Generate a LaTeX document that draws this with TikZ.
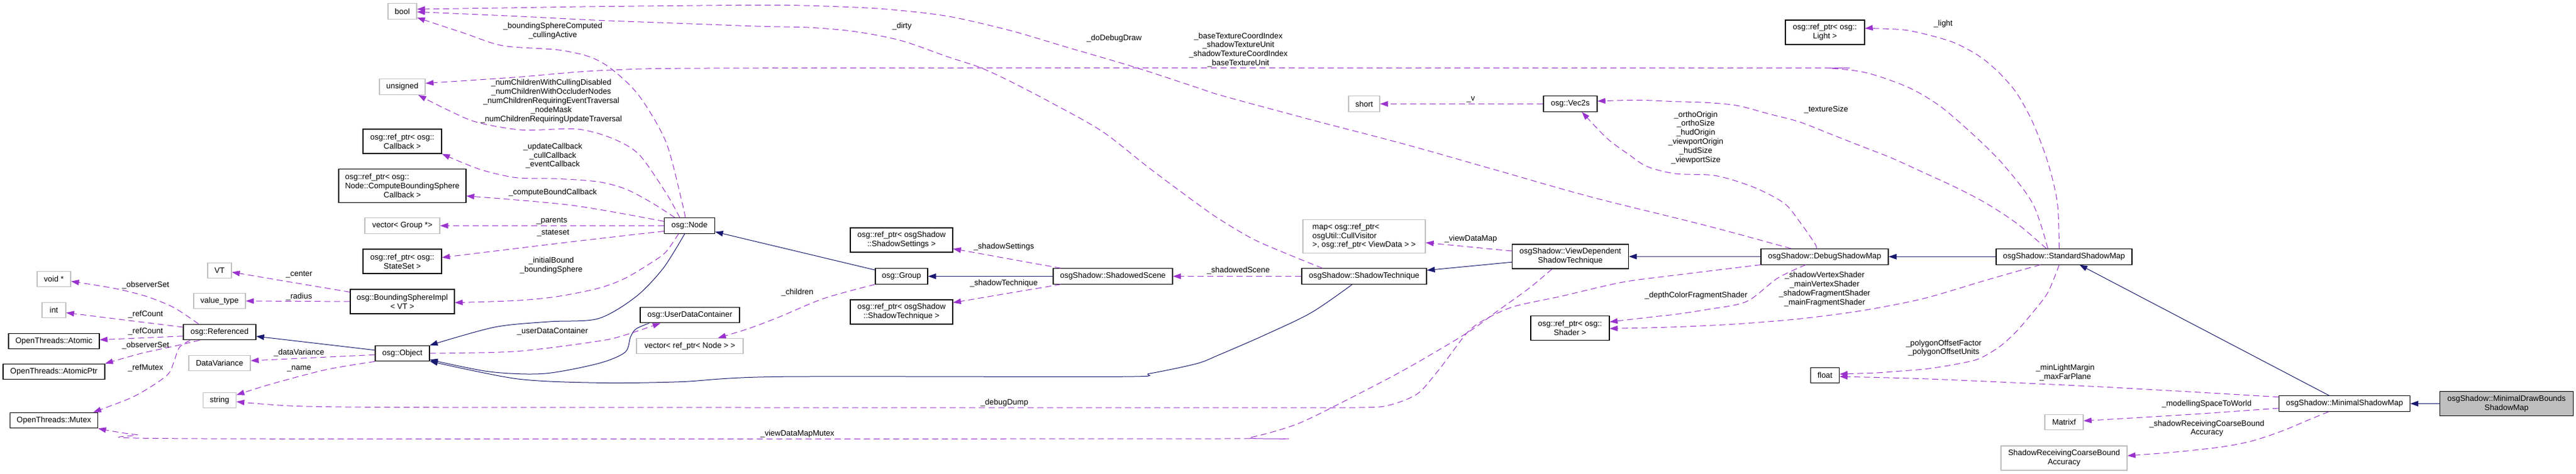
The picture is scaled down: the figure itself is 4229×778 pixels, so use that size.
\documentclass[tikz,border=0pt]{standalone}
\usepackage{fontspec}
\usepackage{calc}
\setmainfont{Liberation Sans}
\usetikzlibrary{arrows.meta}
\definecolor{inhblue}{HTML}{191970}
\definecolor{usepurple}{HTML}{9A32CD}
\definecolor{undocgray}{HTML}{BFBFBF}
\tikzset{
    cls/.style={draw=black, line width=1.1pt, fill=white, inner sep=0pt,
        minimum height=25.5pt, align=center},
    extcls/.style={cls, draw=undocgray, line width=1.3pt},
    inh/.style={draw=inhblue, line width=1pt, -{Triangle[length=13pt,width=9pt]}},
    uses/.style={draw=usepurple, line width=1pt, dash pattern=on 10pt off 6pt,
        -{Triangle[length=13pt,width=9pt]}},
    lbl/.style={inner sep=0pt, align=center},
}
\begin{document}
\begin{tikzpicture}[x=1pt, y=-1pt, font=\fontsize{13}{14.8}\selectfont]
    \useasboundingbox (0,0) rectangle (4229,778);
    \fill[white] (0,0) rectangle (4229,778);

    % Classes on the left
    \node[extcls, minimum width=55pt] (voidp) at (88.5,458) {void *};
    \node[extcls, minimum width=39pt] (int) at (88.5,509) {int};
    \node[cls, minimum width=149pt] (atomic) at (88.5,560) {OpenThreads::Atomic};
    \node[cls, minimum width=167pt] (atomicptr) at (88.5,610) {OpenThreads::AtomicPtr};
    \node[cls, minimum width=144pt] (mutex) at (88.5,690) {OpenThreads::Mutex};
    \node[cls, minimum width=119pt] (referenced) at (360.5,545) {osg::Referenced};
    \node[extcls, minimum width=39pt] (vt) at (360.5,444) {VT};
    \node[extcls, minimum width=85pt] (valuetype) at (360.5,494) {value\_type};
    \node[extcls, minimum width=101pt] (datavar) at (360.5,596) {DataVariance};
    \node[extcls, minimum width=54pt] (string) at (360.5,657) {string};

    % Column of osg::Object and osg::Node members
    \node[extcls, minimum width=47pt] (bool) at (660.5,18.5) {bool};
    \node[extcls, minimum width=75pt] (unsigned) at (660.5,142.5) {unsigned};
    \node[cls, minimum width=129pt, minimum height=40pt] (callback) at (660.5,232) {osg::ref\_ptr< osg::\\Callback >};
    \node[cls, minimum width=209pt, minimum height=55pt] (cbscb) at (660.5,305)
        {\makebox[\widthof{Node::ComputeBoundingSphere}][l]{osg::ref\_ptr< osg::}\\Node::ComputeBoundingSphere\\Callback >};
    \node[extcls, minimum width=123pt] (vecgroup) at (660.5,370.5) {vector< Group *>};
    \node[cls, minimum width=129pt, minimum height=40pt] (stateset) at (660.5,429) {osg::ref\_ptr< osg::\\StateSet >};
    \node[cls, minimum width=171pt, minimum height=40pt] (bsimpl) at (660.5,495) {osg::BoundingSphereImpl\\< VT >};
    \node[cls, minimum width=89pt] (object) at (660.5,580) {osg::Object};

    \node[cls, minimum width=83pt] (node) at (1132,370.5) {osg::Node};
    \node[cls, minimum width=163pt] (udc) at (1132.5,517) {osg::UserDataContainer};
    \node[extcls, minimum width=175pt] (vecnode) at (1132.5,568) {vector< ref\_ptr< Node > >};

    \node[cls, minimum width=168pt, minimum height=40pt] (settings) at (1480,394) {osg::ref\_ptr< osgShadow\\::ShadowSettings >};
    \node[cls, minimum width=86pt] (group) at (1480,453.5) {osg::Group};
    \node[cls, minimum width=168pt, minimum height=40pt] (techptr) at (1480,512) {osg::ref\_ptr< osgShadow\\::ShadowTechnique >};
    \node[cls, minimum width=196pt] (scene) at (1827,453.5) {osgShadow::ShadowedScene};

    % Shadow techniques
    \node[extcls, minimum width=201pt, minimum height=55pt, align=left] (map) at (2239.5,387.7)
        {map< osg::ref\_ptr<\\osgUtil::CullVisitor\\>, osg::ref\_ptr< ViewData > >};
    \node[cls, minimum width=205pt] (technique) at (2239.5,453.5) {osgShadow::ShadowTechnique};
    \node[extcls, minimum width=51pt] (short) at (2239.5,170.5) {short};
    \node[cls, minimum width=88pt] (vec2s) at (2578,170.5) {osg::Vec2s};
    \node[cls, minimum width=191pt, minimum height=40pt] (vdst) at (2578,421) {osgShadow::ViewDependent\\ShadowTechnique};
    \node[cls, minimum width=129pt, minimum height=40pt] (shader) at (2577.5,538.5) {osg::ref\_ptr< osg::\\Shader >};
    \node[cls, minimum width=130pt, minimum height=40pt] (light) at (2996,53) {osg::ref\_ptr< osg::\\Light >};
    \node[cls, minimum width=209pt] (debugmap) at (2995.5,421.3) {osgShadow::DebugShadowMap};
    \node[cls, minimum width=47pt] (float) at (2996,616) {float};
    \node[cls, minimum width=223pt] (stdmap) at (3388.5,421.3) {osgShadow::StandardShadowMap};
    \node[extcls, minimum width=63pt] (matrixf) at (3388.5,693) {Matrixf};
    \node[extcls, minimum width=207pt, minimum height=40pt] (coarse) at (3388.5,752) {ShadowReceivingCoarseBound\\Accuracy};
    \node[cls, minimum width=215pt] (minmap) at (3849,662.5) {osgShadow::MinimalShadowMap};
    \node[cls, fill=undocgray, minimum width=219pt, minimum height=40pt] (drawbounds) at (4115,662.5) {osgShadow::MinimalDrawBounds\\ShadowMap};

    % Inheritance
    \draw[inh] (object) -- (referenced);%
    \draw[inh] plot[smooth] coordinates {([xshift=-8pt]node.south) (1089,440) (1044,487) (982,523) (901,528) (812,537) (object.north east)};%
    \draw[inh] plot[smooth] coordinates {([xshift=15.5pt]udc.south west) (1044,540) (1035,553.3) (1026,578.3) (981.8,596.7) (892.5,613.3) (803,610) ([yshift=3pt]object.south east)};%
    \draw[inh] plot[smooth] coordinates {([xshift=-19.5pt]technique.south) (2153,513) (2076,550) (2000,583) (1964,597) (1888,613) (1837,618.3) (1280,618.3) (1116,626.7) (982,628.3) (848,621.7) ([yshift=0.5pt]object.south east)};%
    \draw[inh] (group) -- (node);%
    \draw[inh] (scene) -- (group);%
    \draw[inh] (vdst) -- (technique);%
    \draw[inh] (debugmap) -- (vdst);%
    \draw[inh] (stdmap) -- (debugmap);%
    \draw[inh] (minmap) -- (stdmap);%
    \draw[inh] (drawbounds) -- (minmap);%

    % Members of osg::Referenced
    \draw[uses] plot[smooth] coordinates {([xshift=-34.5pt]referenced.north) (285.7,505) (241,486.7) (187.5,473.3) ([yshift=-3.7pt]voidp.east)};%
    \node[lbl] (l-observer1) at (239,468) {\_observerSet};%
    \draw[uses] ([yshift=8pt]referenced.west) -- ([yshift=-4.3pt]int.east);%
    \node[lbl] (l-refcount1) at (239,515.7) {\_refCount};%
    \draw[uses] ([yshift=-6.7pt]referenced.west) -- ([yshift=2.3pt]atomic.east);%
    \node[lbl] (l-refcount2) at (239,544.3) {\_refCount};%
    \draw[uses] plot[smooth] coordinates {([xshift=-32.5pt]referenced.south) (285.7,568.3) (232,580) (atomicptr.north east)};%
    \node[lbl] (l-observer2) at (239,567.3) {\_observerSet};%
    \draw[uses] plot[smooth] coordinates {([xshift=-48pt]referenced.south) (294.6,570) (285.7,593.3) (276.8,613.3) (250,633.3) (214.3,653.3) ([xshift=-8pt]mutex.north east)};%
    \node[lbl] (l-refmutex) at (239,604.3) {\_refMutex};%

    % Members of osg::Object and osg::BoundingSphereImpl
    \draw[uses] ([yshift=-5pt]bsimpl.north west) -- ([yshift=-2.7pt]vt.east);%
    \node[lbl] (l-center) at (491,450.7) {\_center};%
    \draw[uses] (bsimpl.west) -- (valuetype.east);%
    \node[lbl] (l-radius) at (491,486.7) {\_radius};%
    \draw[uses] ([yshift=-2.3pt]object.west) -- ([yshift=4pt]datavar.east);%
    \node[lbl] (l-datavar) at (491,579) {\_dataVariance};%
    \draw[uses] plot[smooth] coordinates {(object.south west) (535.7,606.7) (446.4,630) ([yshift=8.7pt]string.east)};%
    \node[lbl] (l-name) at (491,605) {\_name};%
    \draw[uses] plot[smooth] coordinates {(object.east) (848,576.7) (981.8,560) (1026,550) ([xshift=-48pt]udc.south)};%
    \node[lbl] (l-udc) at (907,544.3) {\_userDataContainer};%

    % Members of osg::Node
    \draw[uses] plot[smooth] coordinates {([xshift=-7pt]node.north) (1120,333.3) (1093.4,233.3) (1048.8,156.7) (1004,113.3) (968,93.3) (914.8,81.7) (825.5,75) (758.6,53.3) ([yshift=3pt]bool.south east)};%
    \node[lbl] (l-bsc) at (907.5,50.8) {\_boundingSphereComputed\\\_cullingActive};%
    \draw[uses] plot[smooth] coordinates {([xshift=-16pt]node.north) (1093.4,316.7) (1048.8,253.3) (1004,226.7) (946,211.7) (856.8,213.3) (781,200) (727.3,176.7) ([xshift=-12pt]unsigned.south east)};%
    \node[lbl] (l-numchildren) at (905,166.2) {\_numChildrenWithCullingDisabled\\\_numChildrenWithOccluderNodes\\\_numChildrenRequiringEventTraversal\\\_nodeMask\\\_numChildrenRequiringUpdateTraversal};%
    \draw[uses] plot[smooth] coordinates {([xshift=-24pt]node.north) (1071,333.3) (1026.4,310) (981.8,298.3) (914.8,293.3) (848,291.7) (794.3,280) (758.6,266.7) (callback.south east)};%
    \node[lbl] (l-callbacks) at (907.5,255.7) {\_updateCallback\\\_cullCallback\\\_eventCallback};%
    \draw[uses] plot[smooth] coordinates {([yshift=7.2pt]node.west) (937,336.7) ([yshift=-16.7pt]cbscb.east)};%
    \node[lbl] (l-computebound) at (907.5,315.7) {\_computeBoundCallback};%
    \draw[uses] (node) -- (vecgroup);%
    \node[lbl] (l-parents) at (906,362.7) {\_parents};%
    \draw[uses] plot[smooth] coordinates {([yshift=-9pt]node.west) (937,397) ([yshift=6.3pt]stateset.east)};%
    \node[lbl] (l-stateset) at (908,382.7) {\_stateset};%
    \draw[uses] plot[smooth] coordinates {([xshift=-18pt]node.south) (1093.4,413.3) (1071,430) (1026.4,456.7) (981.8,473.3) (914.8,486.7) (847.9,493.3) ([yshift=-1.7pt]bsimpl.east)};%
    \node[lbl] (l-bound) at (905,435.8) {\_initialBound\\\_boundingSphere};%

    % Members of osg::Group and osgShadow::ShadowedScene
    \draw[uses] plot[smooth] coordinates {(group.south west) (1352,490) (1280,520) (1227,540) ([xshift=-42pt]vecnode.north east)};%
    \node[lbl] (l-children) at (1309,479.7) {\_children};%
    \draw[uses] ([xshift=13pt]scene.north west) -- ([yshift=-14.3pt]settings.east);%
    \node[lbl] (l-settings) at (1648,404.7) {\_shadowSettings};%
    \draw[uses] ([xshift=13pt]scene.south west) -- ([yshift=15.3pt]techptr.east);%
    \node[lbl] (l-technique) at (1648,465) {\_shadowTechnique};%

    % Members of the shadow techniques
    \draw[uses] (technique) -- (scene);%
    \node[lbl] (l-scene) at (2033,444.3) {\_shadowedScene};%
    \draw[uses] plot[smooth] coordinates {([xshift=-68.5pt]technique.north) (2066,396.7) (2005,361.7) (1964,333.3) (1887.8,276.7) (1811,216.7) (1734.7,173.3) (1658,133.3) (1607,110) (1556,93.3) (1479.6,66.7) (1403,51.7) (1326.5,45) (1250,43.3) (1115.7,38.3) (981.8,33.3) (848,26.7) ([yshift=-1pt]bool.east)};%
    \node[lbl] (l-dirty) at (1480.7,43.3) {\_dirty};%
    \draw[uses] plot[smooth] coordinates {([yshift=9pt]vdst.west) ([yshift=-10.6pt]map.east)};%
    \node[lbl] (l-viewdatamap) at (2414.6,391.7) {\_viewDataMap};%
    \draw[uses] plot[smooth] coordinates {([xshift=-30pt]vdst.south) (2510,473.3) (2459,510) (2408,546.7) (2306,606.7) (2204,660) (2127.5,696.7) (2051,718.3) (2000,720) (335,720) (223,713.3) (mutex.south east)};%
    \node[lbl] (l-mutex) at (1309,711.7) {\_viewDataMapMutex};%
    \draw[uses] (vec2s) -- (short);%
    \node[lbl] (l-v) at (2414.5,163.3) {\_v};%
    \draw[uses] plot[smooth] coordinates {([xshift=50pt]debugmap.north west) (2800,370) (2612,323.3) (2459,280) (2306,236.7) (2153,196.7) (2005,156.7) (1964,143.3) (1862,110) (1760,80) (1658,50) (1556,26.7) (1454,15) (1352,10) (1250,8.3) (981.8,10.7) (848,12.7) ([yshift=3.5pt]bool.east)};%
    \node[lbl] (l-debugdraw) at (1829,63.3) {\_doDebugDraw};%
    \draw[uses] plot[smooth] coordinates {(debugmap.south west) (2750,451.7) (2663,463.3) (2561,486.7) (2484.7,503.3) (2433.7,526.7) (2408,546.7) (2377.6,586.7) (2357,613.3) (2326.5,646.7) (2280.6,665) (2229.6,669) (2000,669) (1250,669) (700,668.7) (491,666.7) ([yshift=-2.3pt]string.east)};%
    \node[lbl] (l-debugdump) at (1649,660.7) {\_debugDump};%
    \draw[uses] plot[smooth] coordinates {([xshift=-13.5pt]debugmap.north) (2979.6,400) (2954,363.3) (2928.6,333.3) (2877.6,306.7) (2816,288.3) (2750,285) (2704,273.3) (2673.5,253.3) (2637.8,226.7) ([xshift=19pt]vec2s.south)};%
    \node[lbl] (l-ortho) at (2784,225.8) {\_orthoOrigin\\\_orthoSize\\\_hudOrigin\\\_viewportOrigin\\\_hudSize\\\_viewportSize};%
    \draw[uses] plot[smooth] coordinates {([xshift=-31pt]debugmap.south) (2918,456.7) (2867,495) (2801,508.3) (2750,516) (2714,520) ([yshift=10.2pt]shader.east)};%
    \node[lbl] (l-depthcolor) at (2784.4,485) {\_depthColorFragmentShader};%
    \draw[uses] plot[smooth] coordinates {([xshift=-39pt]stdmap.south) (3260,460) (3158,490) (3056,510) (2954,523.3) (2852,531.7) (2750,536.7) ([yshift=-0.8pt]shader.east)};%
    \node[lbl] (l-shaders) at (2995.5,474.7) {\_shadowVertexShader\\\_mainVertexShader\\\_shadowFragmentShader\\\_mainFragmentShader};%
    \draw[uses] plot[smooth] coordinates {([xshift=-26.5pt]stdmap.north) (3336.7,333.3) (3285.7,266.7) (3234.7,216.7) (3183.7,173.3) (3132.6,143.3) (3066,120) (3005,112.3) (2903,111.7) (1280,111.7) (1004,115) (848,126.7) ([yshift=5.8pt]unsigned.east)};%
    \node[lbl] (l-texunits) at (2033,81.8) {\_baseTextureCoordIndex\\\_shadowTextureUnit\\\_shadowTextureCoordIndex\\\_baseTextureUnit};%
    \draw[uses] plot[smooth] coordinates {([xshift=-8pt]stdmap.north) (3377.5,333.3) (3362,266.7) (3336.7,200) (3311,153.3) (3285.7,123.3) (3260,100) (3234.7,83.3) (3199,66.7) (3132.6,50) (3076.5,46.7) ([yshift=6.3pt]light.east)};%
    \node[lbl] (l-light) at (3190,39.3) {\_light};%
    \draw[uses] plot[smooth] coordinates {([xshift=-29pt]stdmap.north) (3311,366.7) (3260,333.3) (3209,306.7) (3158,283.3) (3107,260) (3056,240) (3005,220) (2954,200) (2903,186.7) (2852,173.3) (2801,168.3) (2750,166.7) (2689,164.3) ([yshift=4.5pt]vec2s.east)};%
    \node[lbl] (l-texsize) at (2998,180) {\_textureSize};%
    \draw[uses] plot[smooth] coordinates {([xshift=-8pt]stdmap.south) (3362,480) (3336.7,513.3) (3311,543.3) (3285.7,566.7) (3260,583.3) (3240,591.7) (3199,600) (3158,606) (3107,610) (3080,612) ([yshift=2pt]float.east)};%
    \node[lbl] (l-polygon) at (3191,571.2) {\_polygonOffsetFactor\\\_polygonOffsetUnits};%
    \draw[uses] plot[smooth] coordinates {([yshift=10.8pt]minmap.west) (3599,643.3) (3450,635) (3311,628.3) (3158,621.7) ([yshift=-2pt]float.east)};%
    \node[lbl] (l-margin) at (3390.5,611.2) {\_minLightMargin\\\_maxFarPlane};%
    \draw[uses] plot[smooth] coordinates {([yshift=-7.5pt]minmap.west) (3599,680) ([yshift=2.3pt]matrixf.east)};%
    \node[lbl] (l-modelling) at (3622.7,662.7) {\_modellingSpaceToWorld};%
    \draw[uses] plot[smooth] coordinates {([xshift=-26pt]minmap.south) (3788,690) (3748.5,706.7) (3698.8,723.3) (3649,733.3) (3574.4,741.7) ([yshift=4pt]coarse.east)};%
    \node[lbl] (l-coarse) at (3623,703.2) {\_shadowReceivingCoarseBound\\Accuracy};%
\end{tikzpicture}
\end{document}
